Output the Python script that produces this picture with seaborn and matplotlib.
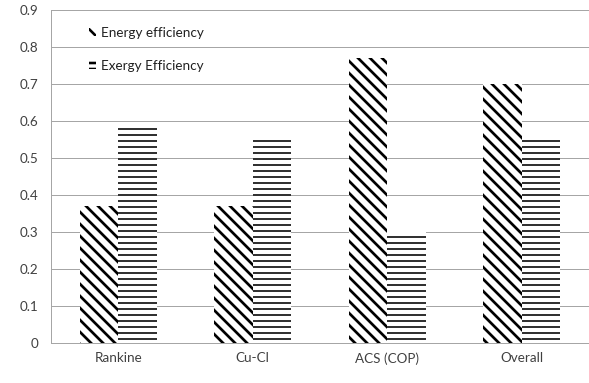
import matplotlib
matplotlib.use("Agg")
import matplotlib.pyplot as plt
from matplotlib.patches import Patch
from matplotlib.ticker import FuncFormatter, FixedLocator
import seaborn as sns
import pandas as pd

categories = ["Rankine", "Cu-Cl", "ACS (COP)", "Overall"]
energy = [0.37, 0.37, 0.77, 0.70]
exergy = [0.59, 0.56, 0.30, 0.56]
series = ["Energy efficiency", "Exergy Efficiency"]
yticks = [0, 0.1, 0.2, 0.3, 0.4, 0.5, 0.6, 0.7, 0.8, 0.9]

df = pd.DataFrame({
    "cat": categories * 2,
    "val": energy + exergy,
    "series": [series[0]] * 4 + [series[1]] * 4,
})

sns.set_style("white")
plt.rcParams["font.family"] = ["Lato", "DejaVu Sans"]
plt.rcParams["hatch.linewidth"] = 2.6

DPI = 72
FS = 13.5
fig = plt.figure(figsize=(589 / DPI, 383 / DPI), dpi=DPI)
ax = fig.add_axes([51 / 589, 40 / 383, 1 - 51 / 589, 333 / 383])

sns.barplot(data=df, x="cat", y="val", hue="series", order=categories,
            hue_order=series, width=0.57, ax=ax, legend=False,
            palette=["white", "white"])

hatches = ["\\\\", "--"]
hlw = [2.7, 1.6]
for cont, h, lw in zip(ax.containers, hatches, hlw):
    for p in cont:
        p.set_facecolor("white")
        p.set_edgecolor("black")
        p.set_linewidth(0)
        p.set_hatch(h)
        if hasattr(p, "set_hatch_linewidth"):
            p.set_hatch_linewidth(lw)

ax.set_xlim(-0.5, 3.5)
ax.set_ylim(0, 0.9)
ax.yaxis.set_major_locator(FixedLocator(yticks))
ax.yaxis.set_major_formatter(FuncFormatter(lambda v, _: f"{v:g}"))
ax.grid(axis="y", color="#a6a6a6", linewidth=1)
ax.set_axisbelow(True)
ax.set_xlabel("")
ax.set_ylabel("")
for s in ["top", "right"]:
    ax.spines[s].set_visible(False)
for s in ["left", "bottom"]:
    ax.spines[s].set_color("#a6a6a6")
    ax.spines[s].set_linewidth(1)

ax.set_xticks(range(len(categories)))
ax.set_xticklabels(categories)
ax.set_xticks([0.5, 1.5, 2.5], minor=True)
ax.tick_params(axis="x", which="major", length=0, pad=9, labelsize=FS, labelcolor="#404040")
ax.tick_params(axis="x", which="minor", length=4, color="#a6a6a6", width=1)
ax.tick_params(axis="y", length=5, color="#a6a6a6", width=1, labelsize=FS, labelcolor="#404040", pad=8)

handles = [Patch(facecolor="white", edgecolor="black", linewidth=0, hatch=hatches[0]),
           Patch(facecolor="white", edgecolor="black", linewidth=0, hatch="--")]
leg = ax.legend(handles, series, loc="upper left", bbox_to_anchor=(0.048, 0.985),
                frameon=False, handlelength=0.55, handleheight=0.55, handletextpad=0.35,
                labelspacing=1.55, fontsize=FS)
for t in leg.get_texts():
    t.set_color("#202020")

fig.savefig("out.png", dpi=DPI)
